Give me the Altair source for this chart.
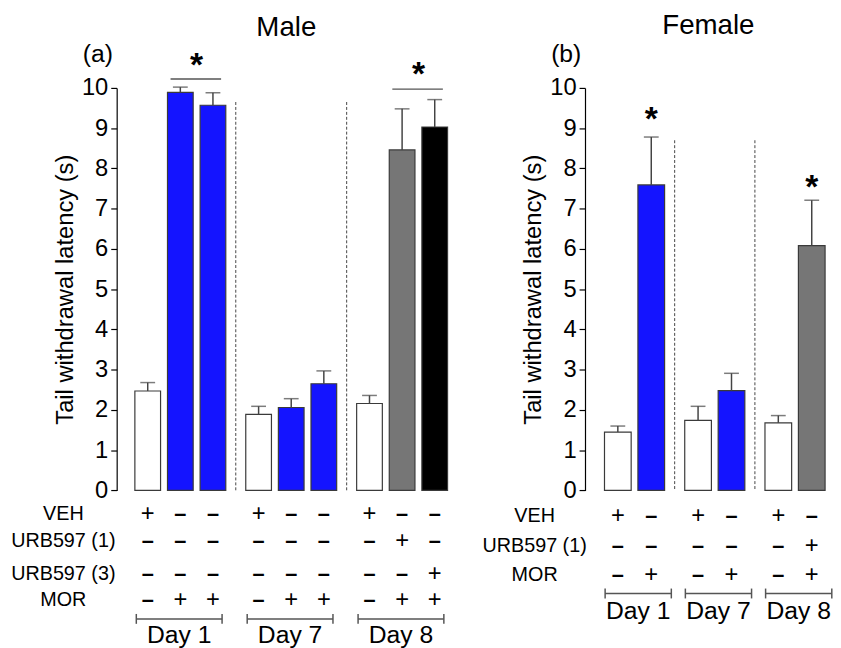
import altair as alt
import pandas as pd

# ---------------- data ----------------
TREATMENTS = ["VEH", "MOR", "URB597 (1) + MOR", "URB597 (3) + MOR"]
TREAT_COLORS = ["#ffffff", "#1414ff", "#767676", "#000000"]

male_days = ["Day 1", "Day 1", "Day 1", "Day 7", "Day 7", "Day 7", "Day 8", "Day 8", "Day 8"]
male_treat = ["VEH", "MOR", "MOR", "VEH", "MOR", "MOR", "VEH", "URB597 (1) + MOR", "URB597 (3) + MOR"]
male_mean = [2.47, 9.89, 9.57, 1.89, 2.06, 2.65, 2.16, 8.46, 9.03]
male_sem = [0.21, 0.13, 0.31, 0.20, 0.22, 0.32, 0.20, 1.02, 0.68]
male_rows = ["VEH", "URB597 (1)", "URB597 (3)", "MOR"]
male_veh = ["+", "–", "–", "+", "–", "–", "+", "–", "–"]
male_urb1 = ["–", "–", "–", "–", "–", "–", "–", "+", "–"]
male_urb3 = ["–", "–", "–", "–", "–", "–", "–", "–", "+"]
male_mor = ["–", "+", "+", "–", "+", "+", "–", "+", "+"]
male_sig_first = [1, 7]
male_sig_last = [2, 8]
male_sig_line = [10.22, 9.97]
male_sig_star = [10.65, 10.42]
male_sep_top = [9.65, 9.65]

female_days = ["Day 1", "Day 1", "Day 7", "Day 7", "Day 8", "Day 8"]
female_treat = ["VEH", "MOR", "VEH", "MOR", "VEH", "URB597 (1) + MOR"]
female_mean = [1.45, 7.59, 1.74, 2.48, 1.68, 6.08]
female_sem = [0.15, 1.19, 0.35, 0.43, 0.18, 1.13]
female_rows = ["VEH", "URB597 (1)", "MOR"]
female_veh = ["+", "–", "+", "–", "+", "–"]
female_urb1 = ["–", "–", "–", "–", "–", "+"]
female_mor = ["–", "+", "–", "+", "–", "+"]
female_sig_first = [1, 5]
female_sig_last = [1, 5]
female_sig_line = [None, None]
female_sig_star = [9.3, 7.62]
female_sep_top = [8.7, 8.7]

FONT = "Liberation Sans"
PLOT_H = 407.4
YTITLE = "Tail withdrawal latency (s)"


def panel(title, tag, days, treat, mean, sem, rows, signs, sig_first, sig_last,
          sig_line, sig_star, sep_top, ppu, lo, hi, bar_w, row_offsets,
          bracket_off, day_off, br_left, br_right, row_label_x, title_y):
    width = (hi - lo) * ppu
    order = list(dict.fromkeys(days))
    df = pd.DataFrame({"day": days, "treat": treat, "mean": mean, "sem": sem})
    df["group"] = df["day"].map({d: i for i, d in enumerate(order)})
    df["within"] = df.groupby("day").cumcount()
    gsize = int(df.groupby("day").size().max())
    df["pos"] = df["within"] + df["group"] * (gsize + 0.4)
    df["top"] = df["mean"] + df["sem"]
    df["zero"] = 0.0

    xs = alt.Scale(domain=[lo, hi], nice=False, zero=False)
    ys = alt.Scale(domain=[0, 10], nice=False, zero=True)
    X = lambda f: alt.X(f, type="quantitative", scale=xs, axis=None)
    Y = lambda f: alt.Y(f, type="quantitative", scale=ys, title=YTITLE)

    base = alt.Chart(df)
    bars = base.mark_bar(size=bar_w, stroke="#3a3a3a", strokeWidth=1.2, orient="vertical").encode(
        x=X("pos"),
        y=alt.Y("mean:Q", scale=ys, title=YTITLE,
                axis=alt.Axis(values=list(range(11)), tickSize=6, labelFontSize=24,
                              labelPadding=3, labelColor="black", labelFont=FONT,
                              titleFontSize=24,
                              titleFontWeight="normal", titleFont=FONT, titleColor="black",
                              titlePadding=4, grid=False, domainColor="black",
                              tickColor="black", domainWidth=1.2, tickWidth=1.2)),
        y2="zero:Q",
        color=alt.Color("treat:N", scale=alt.Scale(domain=TREATMENTS, range=TREAT_COLORS), legend=None),
    )
    err = base.mark_rule(color="#444", strokeWidth=1.5).encode(
        x=X("pos"), y=Y("mean"), y2="top:Q")
    caps = base.mark_tick(orient="horizontal", size=15, thickness=1.5, color="#444").encode(
        x=X("pos"), y=Y("top"))

    # dashed separators between days
    sep = pd.DataFrame({"top": sep_top})
    sep["pos"] = [(g + 1) * (gsize + 0.4) - 0.7 for g in range(len(sep_top))]
    sep["zero"] = 0.0
    seps = alt.Chart(sep).mark_rule(color="#444", strokeDash=[3, 2], strokeWidth=1).encode(
        x=X("pos"), y=Y("top"), y2="zero:Q")

    # significance
    pos = list(df["pos"])
    sig = pd.DataFrame({"a": [pos[i] for i in sig_first], "b": [pos[i] for i in sig_last],
                        "star": sig_star, "line": sig_line})
    sig["mid"] = (sig["a"] + sig["b"]) / 2
    sig["x1"] = sig["a"] - 0.3
    sig["x2"] = sig["b"] + 0.25
    layers = [bars, err, caps, seps]
    sl = sig.dropna(subset=["line"])
    if len(sl):
        layers.append(alt.Chart(sl).mark_rule(color="#555", strokeWidth=1.5).encode(
            x=X("x1"), x2="x2:Q", y=Y("line")))
    sig["txt"] = "*"
    layers.append(alt.Chart(sig).mark_text(fontSize=34, fontWeight="bold", font=FONT,
                                           baseline="middle", dy=4, color="black").encode(
        x=X("mid"), y=Y("star"), text="txt:N"))

    # treatment table
    recs = []
    for r, name in enumerate(rows):
        for i, s in enumerate(signs[r]):
            recs.append({"pos": pos[i], "ypix": PLOT_H + row_offsets[r], "sign": s})
    tab = pd.DataFrame(recs)
    layers.append(alt.Chart(tab).transform_filter("datum.sign == '+'").mark_text(
        fontSize=24, font=FONT, baseline="middle", color="black").encode(
        x=X("pos"), y=alt.Y("ypix:Q", scale=None, axis=None), text="sign:N"))
    layers.append(alt.Chart(tab).transform_filter("datum.sign != '+'").mark_text(
        fontSize=22, font=FONT, fontWeight="bold", baseline="middle", color="black").encode(
        x=X("pos"), y=alt.Y("ypix:Q", scale=None, axis=None), text="sign:N"))
    rl = pd.DataFrame({"label": rows, "ypix": [PLOT_H + o for o in row_offsets[:len(rows)]]})
    layers.append(alt.Chart(rl).mark_text(fontSize=20, font=FONT, baseline="middle",
                                          align="center", color="black").encode(
        x=alt.value(row_label_x), y=alt.Y("ypix:Q", scale=None, axis=None), text="label:N"))

    # day brackets
    dd = df.groupby("day", sort=False)["pos"].agg(["min", "max"]).reset_index()
    dd["x1"] = dd["min"] - br_left
    dd["x2"] = dd["max"] + br_right
    dd["mid"] = (dd["x1"] + dd["x2"]) / 2
    dd["yb"] = PLOT_H + bracket_off
    dd["yt1"] = PLOT_H + bracket_off - 5
    dd["yt2"] = PLOT_H + bracket_off + 5
    dd["yd"] = PLOT_H + day_off
    dbase = alt.Chart(dd)
    layers.append(dbase.mark_rule(color="#555", strokeWidth=1.5).encode(
        x=X("x1"), x2="x2:Q", y=alt.Y("yb:Q", scale=None, axis=None)))
    layers.append(dbase.mark_rule(color="#555", strokeWidth=1.5).encode(
        x=X("x1"), y=alt.Y("yt1:Q", scale=None, axis=None), y2="yt2:Q"))
    layers.append(dbase.mark_rule(color="#555", strokeWidth=1.5).encode(
        x=X("x2"), y=alt.Y("yt1:Q", scale=None, axis=None), y2="yt2:Q"))
    layers.append(dbase.mark_text(fontSize=25, font=FONT, baseline="middle", color="black").encode(
        x=X("mid"), y=alt.Y("yd:Q", scale=None, axis=None), text="day:N"))

    # panel title and tag
    layers.append(alt.Chart(pd.DataFrame({"t": [title]})).mark_text(
        fontSize=28, font=FONT, baseline="middle", color="black").encode(
        x=alt.value(width / 2), y=alt.value(title_y), text="t:N"))
    layers.append(alt.Chart(pd.DataFrame({"t": [tag]})).mark_text(
        fontSize=25, font=FONT, baseline="middle", color="black").encode(
        x=alt.value(-19), y=alt.value(-34), text="t:N"))

    return alt.layer(*layers).properties(width=width, height=PLOT_H)


male = panel("Male", "(a)", male_days, male_treat, male_mean, male_sem, male_rows,
             [male_veh, male_urb1, male_urb3, male_mor], male_sig_first, male_sig_last,
             male_sig_line, male_sig_star, male_sep_top,
             ppu=34.0, lo=-0.8, hi=9.3, bar_w=26, row_offsets=[24.3, 51, 84.3, 111],
             bracket_off=130, day_off=146, br_left=0.35, br_right=0.28,
             row_label_x=-54, title_y=-61)

female = panel("Female", "(b)", female_days, female_treat, female_mean, female_sem, female_rows,
               [female_veh, female_urb1, female_mor], female_sig_first, female_sig_last,
               female_sig_line, female_sig_star, female_sep_top,
               ppu=35.25, lo=-0.834, hi=6.25, bar_w=27, row_offsets=[26, 56, 86],
               bracket_off=104.3, day_off=122.6, br_left=0.38, br_right=0.6,
               row_label_x=-51, title_y=-63)

chart = alt.hconcat(male, female, spacing=130, bounds="flush").properties(
    padding={"left": 3, "top": 0, "right": 0, "bottom": 0}
).configure(font=FONT).configure_view(stroke=None)

chart.save("out.html", embed_options={"renderer": "svg", "actions": False})
